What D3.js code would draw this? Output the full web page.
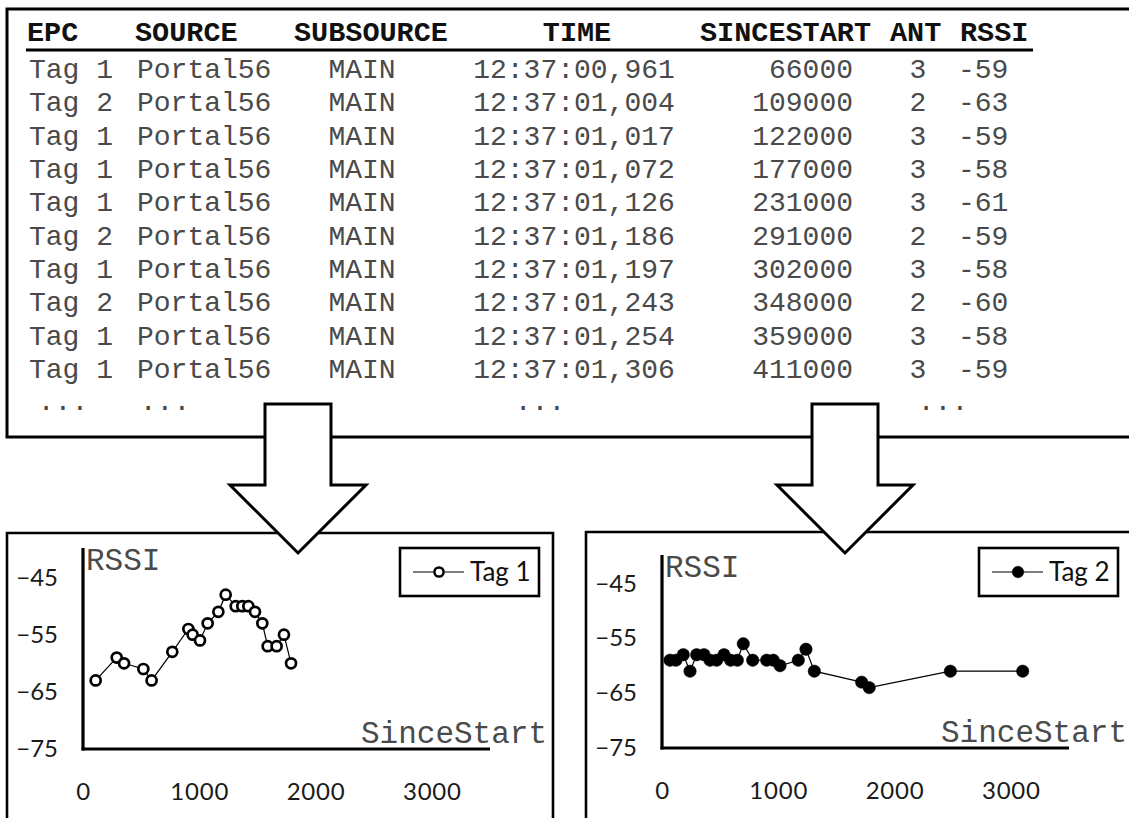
<!DOCTYPE html>
<html>
<head>
<meta charset="utf-8">
<script src="https://cdn.jsdelivr.net/npm/d3@7"></script>
<style>
  html, body { margin: 0; padding: 0; background: #ffffff; }
  svg { display: block; }
</style>
</head>
<body>
<svg id="fig" width="1129" height="818"></svg>
<script>
// ---- Raw reader log (first rows) ----
const headers    = ["EPC", "SOURCE", "SUBSOURCE", "TIME", "SINCESTART", "ANT", "RSSI"];
const logEpc     = ["Tag 1", "Tag 2", "Tag 1", "Tag 1", "Tag 1", "Tag 2", "Tag 1", "Tag 2", "Tag 1", "Tag 1"];
const logSource  = ["Portal56", "Portal56", "Portal56", "Portal56", "Portal56", "Portal56", "Portal56", "Portal56", "Portal56", "Portal56"];
const logSub     = ["MAIN", "MAIN", "MAIN", "MAIN", "MAIN", "MAIN", "MAIN", "MAIN", "MAIN", "MAIN"];
const logTime    = ["12:37:00,961", "12:37:01,004", "12:37:01,017", "12:37:01,072", "12:37:01,126",
                    "12:37:01,186", "12:37:01,197", "12:37:01,243", "12:37:01,254", "12:37:01,306"];
const logSince   = [66000, 109000, 122000, 177000, 231000, 291000, 302000, 348000, 359000, 411000];
const logAnt     = [3, 2, 3, 3, 3, 2, 3, 2, 3, 3];
const logRssi    = [-59, -63, -59, -58, -61, -59, -58, -60, -58, -59];

// ---- Per-tag RSSI traces ----
const tag1Since = [109, 290, 353, 519, 590, 768, 906, 943, 1006, 1072, 1164, 1227, 1313, 1370, 1422, 1479, 1542, 1588, 1665, 1728, 1789];
const tag1Rssi  = [-63, -59, -60, -61, -63, -58, -54, -55, -56, -53, -51, -48, -50, -50, -50, -51, -53, -57, -57, -55, -60];

const tag2Since = [69, 120, 183, 241, 298, 361, 413, 470, 533, 590, 648, 699, 780, 900, 957, 1015, 1172, 1238, 1310, 1717, 1782, 2480, 3102];
const tag2Rssi  = [-59, -59, -58, -61, -58, -58, -59, -59, -58, -59, -59, -56, -59, -59, -59, -60, -59, -57, -61, -63, -64, -61, -61];

const xTickValues = [0, 1000, 2000, 3000];
const yTickValues = [-75, -65, -55, -45];
const xDomain = [0, 3500];
const yDomain = [-75, -40];

// ---- Styling ----
const MONO = "'Liberation Mono', 'DejaVu Sans Mono', monospace";
const SANS = "Lato, 'Open Sans', sans-serif";
const svg = d3.select("#fig");

// ===== Table =====
const table = svg.append("g").attr("class", "log-table");
table.append("path")
  .attr("d", "M1135,9 H7 V437 H1135")
  .attr("fill", "none").attr("stroke", "#000").attr("stroke-width", 3);

const headCols = [
  { x: 27,  anchor: "start"  },
  { x: 135, anchor: "start"  },
  { x: 294, anchor: "start"  },
  { x: 577, anchor: "middle" },
  { x: 700, anchor: "start"  },
  { x: 890, anchor: "start"  },
  { x: 960, anchor: "start"  }
];
table.selectAll("text.head").data(headers).join("text")
  .attr("class", "head")
  .attr("x", (d, i) => headCols[i].x)
  .attr("y", 41)
  .attr("text-anchor", (d, i) => headCols[i].anchor)
  .attr("font-family", MONO).attr("font-weight", "bold").attr("font-size", 28.5)
  .attr("fill", "#111")
  .text(d => d);
table.append("line")
  .attr("x1", 26).attr("x2", 1033).attr("y1", 50).attr("y2", 50)
  .attr("stroke", "#000").attr("stroke-width", 3);

const rows = logEpc.map((e, i) => [e, logSource[i], logSub[i], logTime[i], String(logSince[i]), String(logAnt[i]), String(logRssi[i])]);
const cellCols = [
  { x: 29,  anchor: "start"  },
  { x: 137, anchor: "start"  },
  { x: 362, anchor: "middle" },
  { x: 574, anchor: "middle" },
  { x: 853, anchor: "end"    },
  { x: 918, anchor: "middle" },
  { x: 958, anchor: "start"  }
];
const rowY = d3.scaleLinear().domain([0, 9]).range([78, 378]);
const rowG = table.selectAll("g.row").data(rows).join("g")
  .attr("class", "row")
  .attr("transform", (d, i) => `translate(0,${rowY(i)})`);
rowG.selectAll("text").data(d => d).join("text")
  .attr("x", (d, j) => cellCols[j].x)
  .attr("text-anchor", (d, j) => cellCols[j].anchor)
  .attr("font-family", MONO).attr("font-size", 28)
  .attr("fill", "#4a4a4a")
  .text(d => d);

// continuation marks under the columns
const moreMarks = [63, 165, 540, 943];
table.selectAll("text.more").data(moreMarks).join("text")
  .attr("class", "more")
  .attr("x", d => d).attr("y", 410)
  .attr("text-anchor", "middle")
  .attr("font-family", MONO).attr("font-size", 28).attr("fill", "#4a4a4a")
  .text("...");

// ===== Chart panels =====
function panel(cfg) {
  const g = svg.append("g");
  // frame (open at bottom / right edge of the page)
  g.append("path")
    .attr("d", cfg.frame)
    .attr("fill", "none").attr("stroke", "#000").attr("stroke-width", 2.6);

  const x = d3.scaleLinear().domain(xDomain).range([cfg.x0, cfg.x1]);
  const y = d3.scaleLinear().domain(yDomain).range([cfg.y0, cfg.y1]);

  const yAxis = g.append("g")
    .attr("transform", `translate(${cfg.x0},0)`)
    .call(d3.axisLeft(y).tickValues(yTickValues).tickSize(0).tickSizeOuter(0).tickPadding(25));
  const xAxis = g.append("g")
    .attr("transform", `translate(0,${cfg.y0})`)
    .call(d3.axisBottom(x).tickValues(xTickValues).tickSize(0).tickSizeOuter(0).tickPadding(34).tickFormat(d3.format("d")));
  [xAxis, yAxis].forEach(a => {
    a.select(".domain").attr("stroke", "#000").attr("stroke-width", 3.2);
    a.selectAll("text").attr("font-family", SANS).attr("font-size", 24).attr("fill", "#1a1a1a");
  });
  xAxis.selectAll("text").attr("letter-spacing", 0.8);
  yAxis.select(".domain").attr("d", `M0,${cfg.y0 + 1.5}V${cfg.y1 - 1}`);
  xAxis.select(".domain").attr("d", `M${cfg.x0 - 1.5},0H${cfg.x1}`);

  g.append("text")
    .attr("x", cfg.x0 + 3).attr("y", cfg.y1 + 21)
    .attr("font-family", MONO).attr("font-size", 31).attr("fill", "#4a4a4a")
    .text("RSSI");
  g.append("text")
    .attr("x", cfg.sinceX).attr("y", cfg.y0 - 6)
    .attr("font-family", MONO).attr("font-size", 31).attr("fill", "#4a4a4a")
    .text("SinceStart");

  const pts = cfg.since.map((s, i) => ({ s, r: cfg.rssi[i] }));
  g.append("path")
    .datum(pts)
    .attr("fill", "none").attr("stroke", "#000").attr("stroke-width", 1.2)
    .attr("d", d3.line().x(d => x(d.s)).y(d => y(d.r)));
  g.selectAll("circle.pt").data(pts).join("circle")
    .attr("class", "pt")
    .attr("cx", d => x(d.s)).attr("cy", d => y(d.r))
    .attr("r", cfg.filled ? 6.2 : 5.0)
    .attr("fill", cfg.filled ? "#000" : "#fff")
    .attr("stroke", "#000").attr("stroke-width", cfg.filled ? 0.5 : 2.7);

  // legend
  const L = cfg.legend;
  g.append("rect")
    .attr("x", L.x).attr("y", 548).attr("width", 139).attr("height", 48)
    .attr("fill", "#fff").attr("stroke", "#000").attr("stroke-width", 2.6);
  g.append("line")
    .attr("x1", L.x + 13).attr("x2", L.x + 64).attr("y1", 572).attr("y2", 572)
    .attr("stroke", "#000").attr("stroke-width", 1.2);
  g.append("circle")
    .attr("cx", L.x + 39).attr("cy", 572)
    .attr("r", cfg.filled ? 5.8 : 4.6)
    .attr("fill", cfg.filled ? "#000" : "#fff")
    .attr("stroke", "#000").attr("stroke-width", cfg.filled ? 0.5 : 2.5);
  g.append("text")
    .attr("x", L.x + 70).attr("y", 581)
    .attr("font-family", SANS).attr("font-size", 26).attr("fill", "#111")
    .text(cfg.name);
}

panel({
  name: "Tag 1", since: tag1Since, rssi: tag1Rssi, filled: false,
  frame: "M7,830 V533 H553 V830",
  x0: 83, x1: 490, y0: 749, y1: 549, sinceX: 361,
  legend: { x: 400 }
});
panel({
  name: "Tag 2", since: tag2Since, rssi: tag2Rssi, filled: true,
  frame: "M586,830 V532 H1135",
  x0: 662, x1: 1069, y0: 748, y1: 556, sinceX: 941,
  legend: { x: 979 }
});

// ===== Block arrows from the log to each chart =====
function blockArrow(cx) {
  const sw = 33, hw = 68, top = 404, neck = 485, tip = 553;
  const d = `M${cx - sw},${top} H${cx + sw} V${neck} H${cx + hw} L${cx},${tip} L${cx - hw},${neck} H${cx - sw} Z`;
  svg.append("path").attr("d", d)
    .attr("fill", "#fff").attr("stroke", "#000").attr("stroke-width", 3).attr("stroke-linejoin", "miter");
}
blockArrow(298);
blockArrow(845);
</script>
</body>
</html>
